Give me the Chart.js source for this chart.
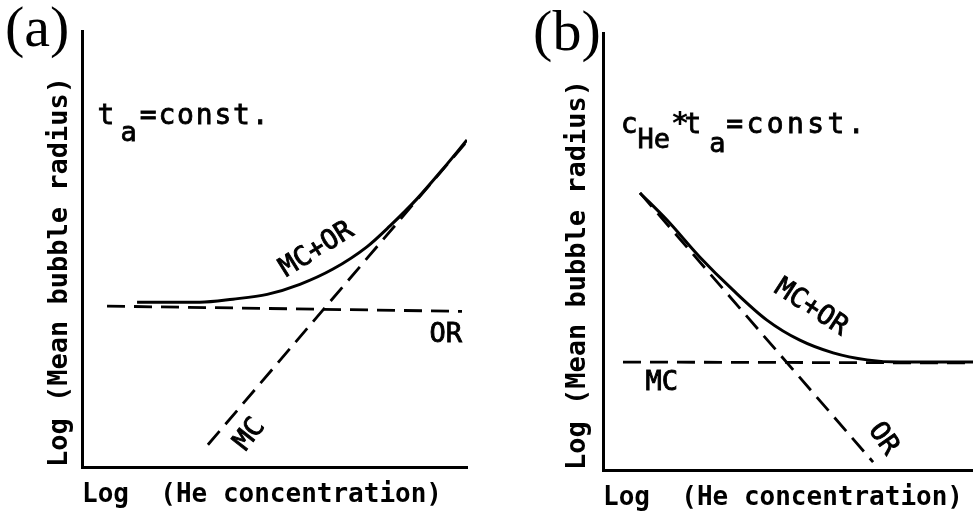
<!DOCTYPE html>
<html lang="en">
<head>
  <meta charset="UTF-8">
  <title>Mean bubble radius vs He concentration</title>
  <script src="https://cdn.jsdelivr.net/npm/chart.js"></script>
  <style>
    html, body { margin: 0; padding: 0; background: #fff; }
    #wrap { position: relative; width: 973px; height: 514px; }
    canvas { position: absolute; top: 0; }
    #chartA { left: 0; }
    #chartB { left: 486px; }
  </style>
</head>
<body>
<div id="wrap">
  <canvas id="chartA" width="486" height="514"></canvas>
  <canvas id="chartB" width="487" height="514"></canvas>
</div>

<script>
  // axes are schematic log units, 0..10 on both panels
  // panel (a): t_a = const.
  const aMcOrX = [1.43, 3.06, 3.92, 4.81, 5.66, 6.52, 7.40, 8.00, 8.70, 9.38, 10.0];
  const aMcOrY = [3.78, 3.78, 3.85, 3.96, 4.19, 4.54, 5.05, 5.53, 6.15, 6.84, 7.50];
  const aOrX = [0.65, 9.87];
  const aOrY = [3.69, 3.57];
  const aMcX = [3.27, 9.95];
  const aMcY = [0.51, 7.42];

  // panel (b): c_He * t_a = const.
  const bMcOrX = [1.00, 1.73, 2.62, 3.51, 4.43, 5.32, 6.22, 7.14, 8.03, 10.0];
  const bMcOrY = [6.34, 5.72, 4.87, 4.12, 3.43, 2.97, 2.68, 2.52, 2.47, 2.47];
  const bOrX = [1.00, 7.30];
  const bOrY = [6.34, 0.18];
  const bMcX = [0.54, 10.0];
  const bMcY = [2.47, 2.45];

  const xTitle = 'Log  (He concentration)';
  const yTitle = 'Log (Mean bubble radius)';
  const MONO = "'DejaVu Sans Mono', monospace";

  const pts = (xs, ys) => xs.map((x, i) => ({ x, y: ys[i] }));

  const solid = (label, data) => ({
    label, data, borderColor: '#000', borderWidth: 3,
    cubicInterpolationMode: 'monotone', pointRadius: 0
  });
  const dashed = (label, data) => ({
    label, data, borderColor: '#000', borderWidth: 2.8,
    borderDash: [18, 9], pointRadius: 0
  });

  // draws the annotation text at data coordinates
  const textPlugin = {
    id: 'panelText',
    afterDatasetsDraw(chart, args, opts) {
      const { ctx, scales: { x, y } } = chart;
      opts.items.forEach(t => {
        ctx.save();
        ctx.fillStyle = '#000';
        ctx.strokeStyle = '#000';
        ctx.lineWidth = t.thick || 0;
        ctx.font = t.font;
        ctx.letterSpacing = t.spacing || '0px';
        ctx.translate(x.getPixelForValue(t.x), y.getPixelForValue(t.y));
        ctx.rotate((t.angle || 0) * Math.PI / 180);
        ctx.textAlign = t.align || 'left';
        ctx.textBaseline = t.baseline || 'alphabetic';
        ctx.fillText(t.text, 0, 0);
        if (t.thick) ctx.strokeText(t.text, 0, 0);
        ctx.restore();
      });
    }
  };

  const lbl = `27px ${MONO}`;
  const big = `28px ${MONO}`;
  const sub = `27px ${MONO}`;
  const tag = "58px 'Liberation Serif', 'Times New Roman', serif";

  function makeChart(id, datasets, items, geo) {
    return new Chart(document.getElementById(id), {
      type: 'line',
      data: { datasets },
      plugins: [textPlugin],
      options: {
        responsive: false,
        animation: false,
        layout: { padding: { left: geo.padLeft, top: geo.top, right: geo.padRight, bottom: 0 } },
        plugins: {
          legend: { display: false },
          tooltip: { enabled: false },
          panelText: { items }
        },
        scales: {
          x: {
            type: 'linear', min: 0, max: 10,
            grid: { display: false },
            ticks: { display: false },
            border: { display: true, color: '#000', width: 3 },
            title: {
              display: true, text: xTitle, align: 'start', color: '#000',
              font: { family: MONO, size: 26, weight: 'bold' },
              padding: { top: 0, bottom: geo.xPad }
            },
            afterFit: s => { s.height = geo.xHeight; }
          },
          y: {
            type: 'linear', min: 0, max: 10,
            grid: { display: false },
            ticks: { display: false },
            border: { display: true, color: '#000', width: 3 },
            title: {
              display: true, text: yTitle, align: 'start', color: '#000',
              font: { family: MONO, size: 27, weight: 'bold' },
              padding: { top: geo.yPad, bottom: 0 }
            },
            afterFit: s => { s.width = geo.yWidth; }
          }
        }
      }
    });
  }

  makeChart('chartA', [
    solid('MC+OR', pts(aMcOrX, aMcOrY)),
    dashed('OR', pts(aOrX, aOrY)),
    dashed('MC', pts(aMcX, aMcY))
  ], [
    { text: '(a)', x: -2.0, y: 9.65, font: tag },
    { text: 't', x: 0.40, y: 7.86, font: big, thick: 0.8 },
    { text: 'a', x: 1.00, y: 7.47, font: sub, thick: 0.8 },
    { text: '=const.', x: 1.50, y: 7.86, font: big, spacing: '1.8px', thick: 0.8 },
    { text: 'MC+OR', x: 6.10, y: 4.98, font: lbl, angle: -32, align: 'center', baseline: 'middle', thick: 0.9 },
    { text: 'OR', x: 9.45, y: 3.02, font: lbl, align: 'center', baseline: 'middle', thick: 0.9 },
    { text: 'MC', x: 4.36, y: 0.74, font: lbl, angle: -52, align: 'center', baseline: 'middle', thick: 0.9 }
  ], { padLeft: 30, yWidth: 52, yPad: 13.8, top: 31, padRight: 19, xHeight: 47, xPad: 3.4 });

  makeChart('chartB', [
    solid('MC+OR', pts(bMcOrX, bMcOrY)),
    dashed('OR', pts(bOrX, bOrY)),
    dashed('MC', pts(bMcX, bMcY))
  ], [
    { text: '(b)', x: -1.89, y: 9.61, font: tag },
    { text: 'c', x: 0.48, y: 7.71, font: big, thick: 0.8 },
    { text: 'He', x: 0.93, y: 7.37, font: sub, thick: 0.8 },
    { text: '*', x: 1.84, y: 7.71, font: `bold 30px ${MONO}` },
    { text: 't', x: 2.20, y: 7.71, font: big, thick: 0.8 },
    { text: 'a', x: 2.87, y: 7.28, font: sub, thick: 0.8 },
    { text: '=const.', x: 3.33, y: 7.71, font: big, spacing: '3.4px', thick: 0.8 },
    { text: 'MC+OR', x: 5.62, y: 3.71, font: lbl, angle: 33, align: 'center', baseline: 'middle', thick: 0.9 },
    { text: 'OR', x: 7.57, y: 0.71, font: lbl, angle: 55, align: 'center', baseline: 'middle', thick: 0.9 },
    { text: 'MC', x: 1.59, y: 1.99, font: lbl, align: 'center', baseline: 'middle', thick: 0.9 }
  ], { padLeft: 60, yWidth: 57, yPad: 15.8, top: 33, padRight: 0, xHeight: 44, xPad: 0.4 });
</script>
</body>
</html>
